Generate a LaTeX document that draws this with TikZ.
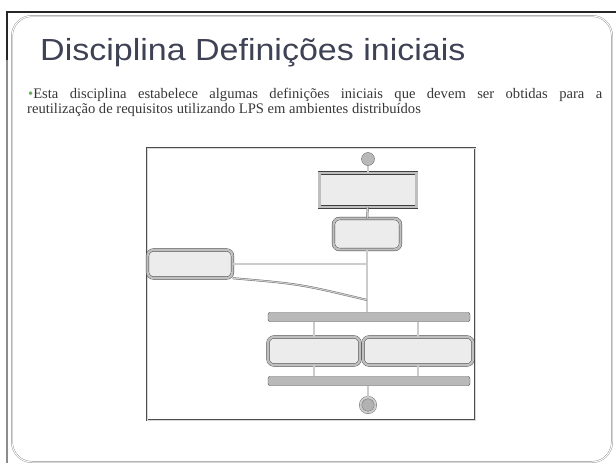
\documentclass[tikz,border=0pt]{standalone}
\usepackage{fontspec}
\setmainfont{Liberation Serif}
\newfontfamily\titlefont{Liberation Sans}
\usetikzlibrary{positioning,calc}
\definecolor{titlegray}{RGB}{62,66,84}
\definecolor{textgray}{RGB}{55,55,55}
\definecolor{bulletgreen}{RGB}{105,180,90}
\definecolor{framegray}{RGB}{140,140,140}

\tikzset{
  actbox/.style={draw=black!75, double=gray!50, double distance=2.4pt, fill=gray!15, inner sep=0pt},
  actround/.style={actbox, rounded corners=6pt},
  bar/.style={draw=black!70, fill=gray!55, rounded corners=2pt, inner sep=0pt, minimum width=202pt, minimum height=9pt},
  flow/.style={draw=black!60, double=gray!40, double distance=1.2pt},
  startnode/.style={circle, draw=black!60, fill=gray!55, minimum size=13pt, inner sep=0pt},
  endnode/.style={circle, draw=black!60, double=gray!40, double distance=2pt, fill=gray!60, minimum size=15pt, inner sep=0pt}
}

\begin{document}
\begin{tikzpicture}[x=1pt,y=-1pt]
  \useasboundingbox (0,0) rectangle (616,469);
  % slide frame
  \draw[framegray, line width=1.3pt] (7,463) -- (7,60);
  \draw[black!85, line width=1.3pt] (7,60) -- (7,12) -- (616,12);
  \draw[framegray, double=white, double distance=1pt, rounded corners=20pt] (12,16) rectangle (612,462);

  % title and bullet
  \node[anchor=base west, inner sep=0pt, text=titlegray, font=\titlefont\fontsize{30.5}{36}\selectfont] (title) at (40,60)
    {\scalebox{1.115}[1]{Disciplina Definições iniciais}};
  \node[anchor=base west, inner sep=0pt, text=textgray, font=\fontsize{14.6}{15}\selectfont] (line1) at (28,98)
    {\makebox[574pt][s]{\textcolor{bulletgreen}{•}Esta disciplina estabelece algumas definições iniciais que devem ser obtidas para a}};
  \node[anchor=base west, inner sep=0pt, text=textgray, font=\fontsize{14.6}{15}\selectfont] (line2) at (27,113)
    {reutilização de requisitos utilizando LPS em ambientes distribuídos};

  % diagram
  \draw[black!70, double=gray!30, double distance=1pt] (147,148) rectangle (475,420);

  \node[startnode] (start) at (368,159) {};
  \node[actbox, minimum width=97pt, minimum height=34pt] (define) at (368,190) {};
  \node[actround, minimum width=67pt, minimum height=31pt] (select) at (367,234) {};
  \node[actround, minimum width=85pt, minimum height=28pt] (artefato) at (190,264) {};
  \coordinate (merge) at (367,300);
  \node[bar] (fork) at (369,317) {};
  \node[actround, minimum width=92pt, minimum height=28pt] (leftact) at (314,351) {};
  \node[actround, minimum width=110pt, minimum height=28pt] (rightact) at (418,351) {};
  \node[bar] (join) at (369,381) {};
  \node[endnode] (end) at (368,405) {};

  \draw[flow] (start) -- (define);
  \draw[flow] (define) -- (select);
  \draw[flow] (select.south) -- (select.south |- fork.north);
  \draw[flow] (artefato.east) -- (artefato.east -| select.south);
  \draw[flow] (artefato.south east) .. controls (300,284) .. (merge);
  \draw[flow] (fork.south -| leftact.north) -- (leftact.north);
  \draw[flow] (fork.south -| rightact.north) -- (rightact.north);
  \draw[flow] (leftact.south) -- (leftact.south |- join.north);
  \draw[flow] (rightact.south) -- (rightact.south |- join.north);
  \draw[flow] (join.south -| end.north) -- (end.north);
\end{tikzpicture}
\end{document}
